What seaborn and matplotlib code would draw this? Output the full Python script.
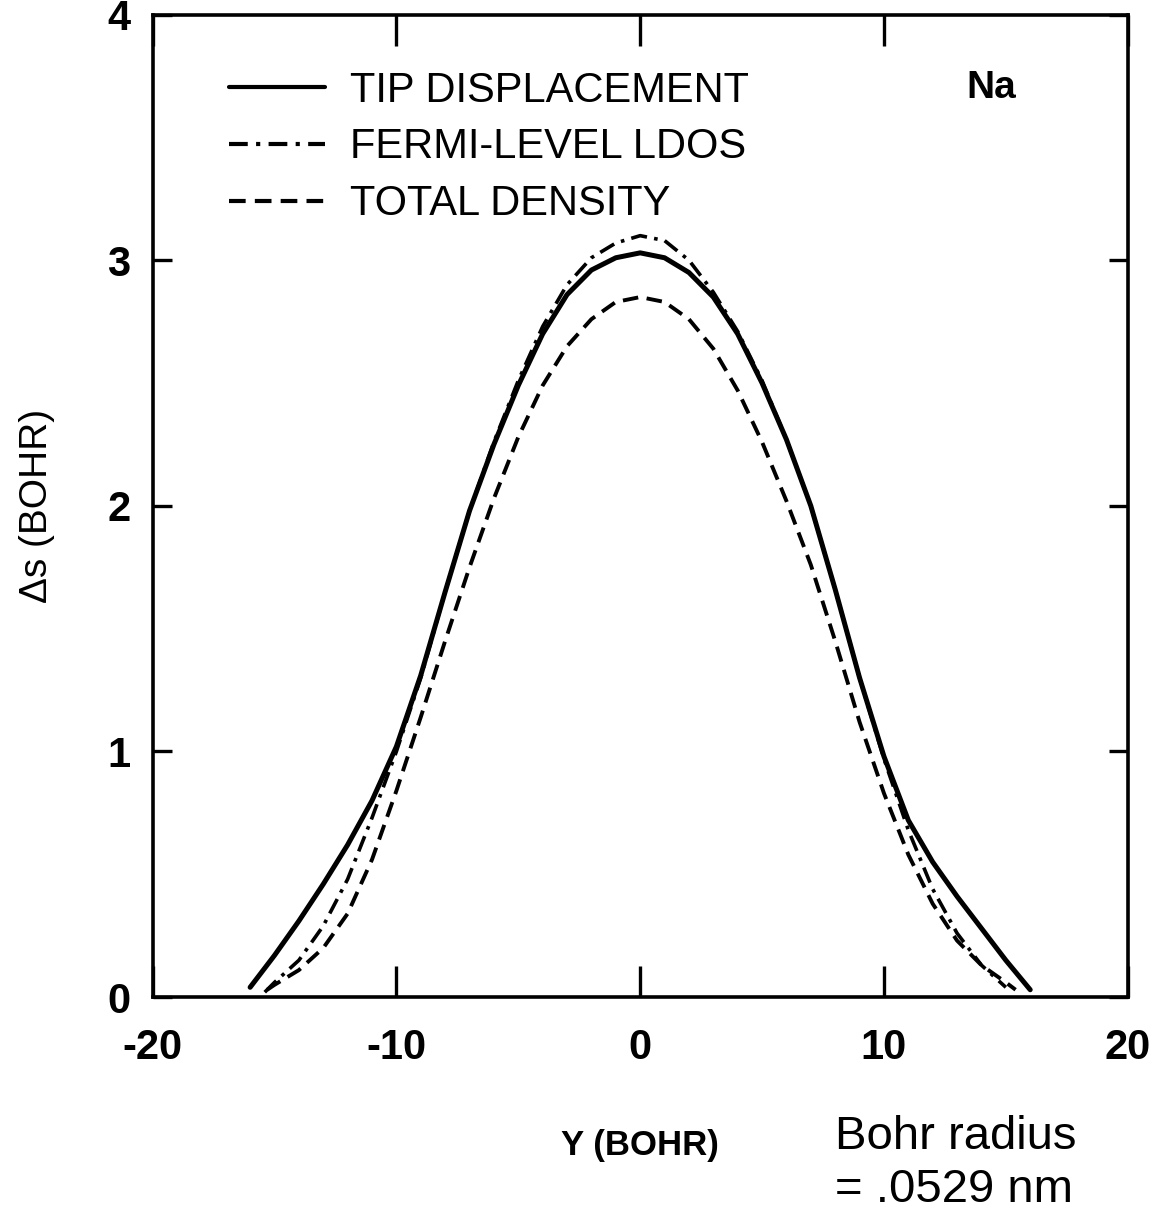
"""
Tip displacement vs Fermi-level LDOS vs total density for Na adsorbate
"""
import numpy as np
import pandas as pd
import matplotlib
matplotlib.use("Agg")
import matplotlib.pyplot as plt
import seaborn as sns

# lateral position Y (bohr) for each curve
x_tip = [-16.0, -15, -14, -13, -12, -11, -10, -9, -8, -7, -6, -5, -4, -3, -2, -1, 0,
         1, 2, 3, 4, 5, 6, 7, 8, 9, 10, 11, 12, 13, 14, 15, 16.0]
tip = [0.04, 0.17, 0.31, 0.46, 0.62, 0.80, 1.02, 1.31, 1.65, 1.98, 2.25, 2.49, 2.70, 2.86, 2.96, 3.01, 3.03,
       3.01, 2.95, 2.85, 2.70, 2.50, 2.27, 2.00, 1.66, 1.30, 0.98, 0.72, 0.55, 0.41, 0.28, 0.15, 0.03]

x_ldos = [-15.4, -15, -14, -13, -12, -11, -10, -9, -8, -7, -6, -5, -4, -3, -2, -1, 0,
          1, 2, 3, 4, 5, 6, 7, 8, 9, 10, 11, 12, 13, 14, 15.0]
ldos = [0.02, 0.06, 0.15, 0.29, 0.48, 0.73, 1.00, 1.30, 1.65, 1.98, 2.26, 2.51, 2.73, 2.90, 3.01, 3.07, 3.10,
        3.08, 3.00, 2.87, 2.71, 2.51, 2.27, 2.00, 1.66, 1.30, 0.97, 0.68, 0.44, 0.26, 0.13, 0.04]

x_total = [-15.3, -15, -14, -13, -12, -11, -10, -9, -8, -7, -6, -5, -4, -3, -2, -1, 0,
           1, 2, 3, 4, 5, 6, 7, 8, 9, 10, 11, 12, 13, 14, 15, 15.4]
total = [0.03, 0.05, 0.11, 0.20, 0.34, 0.56, 0.84, 1.14, 1.45, 1.75, 2.03, 2.28, 2.49, 2.65, 2.76, 2.83, 2.85,
         2.83, 2.76, 2.64, 2.47, 2.26, 2.02, 1.76, 1.45, 1.12, 0.83, 0.58, 0.38, 0.23, 0.13, 0.06, 0.03]

labels = ["TIP DISPLACEMENT", "FERMI-LEVEL LDOS", "TOTAL DENSITY"]
x_ticks = [-20, -10, 0, 10, 20]
x_ticklabels = ["-20", "-10", "0", "10", "20"]
y_ticks = [0, 1, 2, 3, 4]

sns.set_style("ticks")
plt.rcParams["font.family"] = ["Liberation Sans", "DejaVu Sans"]
plt.rcParams.update({"text.color": "black", "axes.labelcolor": "black",
                     "xtick.color": "black", "ytick.color": "black"})

fig = plt.figure(figsize=(11.65, 12.16), dpi=100)
ax = fig.add_axes([0.131, 0.180, 0.837, 0.808])

# curves
sns.lineplot(x=x_tip, y=tip, ax=ax, color="black", lw=3.6, sort=False,
             label=labels[0])
sns.lineplot(x=x_ldos, y=ldos, ax=ax, color="black", lw=2.6, sort=False,
             linestyle=(0, (4.5, 2.0, 1.0, 2.0)), label=labels[1])
sns.lineplot(x=x_total, y=total, ax=ax, color="black", lw=2.8, sort=False,
             linestyle=(0, (4.0, 2.2)), label=labels[2])

ax.set_xlim(-20, 20)
ax.set_ylim(0, 4)
ax.set_xticks(x_ticks)
ax.set_xticklabels(x_ticklabels)
ax.set_yticks(y_ticks)

for s in ax.spines.values():
    s.set_linewidth(2.6)
    s.set_color("black")

ax.tick_params(axis="x", direction="in", length=22, width=2.4, top=True,
               labelsize=30, pad=22)
ax.tick_params(axis="y", direction="in", length=14, width=2.4, right=True,
               labelsize=30, pad=16)
for t in ax.get_xticklabels() + ax.get_yticklabels():
    t.set_fontweight("bold")

ax.set_xlabel("Y (BOHR)", fontsize=25, fontweight="bold", labelpad=44)
ax.set_ylabel("Δs (BOHR)", fontsize=28)
ax.yaxis.set_label_coords(-0.1, 0.50)

# legend
leg = ax.legend(loc="upper left", bbox_to_anchor=(0.04, 0.981), frameon=False,
                fontsize=30, handlelength=2.3, handletextpad=0.6,
                labelspacing=0.4)
for h in leg.get_lines():
    h.set_linewidth(3.0)

ax.text(0.835, 0.925, "Na", transform=ax.transAxes, fontsize=28,
        fontweight="bold", va="center", ha="left")

fig.text(0.717, 0.043, "Bohr radius\n= .0529 nm", fontsize=34,
         ha="left", va="center", linespacing=1.28)

fig.savefig("out.png", dpi=100)
